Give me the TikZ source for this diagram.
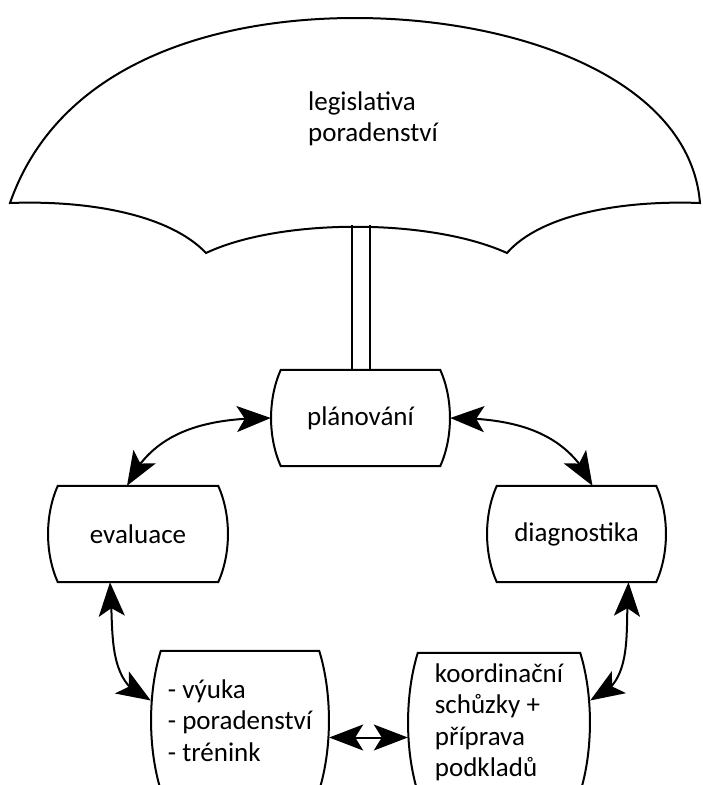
\documentclass[tikz,border=0pt]{standalone}
\usepackage{fontspec}
\setmainfont{Carlito}
\usetikzlibrary{arrows.meta,bending,calc}

\tikzset{
  box/.style={inner sep=0pt, align=left, font=\fontsize{27}{31.5}\selectfont},
  link/.style={line width=2pt, >={Stealth[length=34pt,width=26pt,inset=8pt]}, <->},
}
% box with straight top/bottom and bulging sides
\newcommand{\barrel}[1]{%
  \draw[line width=2pt] ([xshift=10pt]#1.north west) -- ([xshift=-10pt]#1.north east)
    .. controls ($(#1.north east)!.3!(#1.south east)+(3pt,0)$) and ($(#1.north east)!.7!(#1.south east)+(3pt,0)$) .. ([xshift=-10pt]#1.south east)
    -- ([xshift=10pt]#1.south west)
    .. controls ($(#1.south west)!.3!(#1.north west)-(3pt,0)$) and ($(#1.south west)!.7!(#1.north west)-(3pt,0)$) .. cycle;}

\begin{document}
\begin{tikzpicture}[x=1pt,y=1pt]
\useasboundingbox (0,0) rectangle (703,-785);
\clip (0,0) rectangle (703,-785);

% umbrella
\draw[line width=2pt] (10,-203) .. controls (60,-60) and (220,-18) .. (355,-18)
  .. controls (520,-18) and (690,-80) .. (700,-203)
  .. controls (620,-200) and (540,-215) .. (507,-253)
  .. controls (430,-218) and (280,-218) .. (206,-253)
  .. controls (170,-215) and (90,-200) .. cycle;
\node[box] (roof) at (373,-119) {legislativa\\poradenství};

\node[box, minimum width=179pt, minimum height=96pt] (plan) at (360.5,-418) {plánování};
\node[box, minimum width=180pt, minimum height=96pt] (eval) at (138,-534) {evaluace};
\node[box, minimum width=179pt, minimum height=96pt] (diag) at (576.5,-534) {diagnostika};
\node[box, minimum width=178pt, minimum height=139pt] (vyuka) at (240,-720.5) {- výuka\\- poradenství\\- trénink};
\node[box, minimum width=182pt, minimum height=139pt] (koord) at (499,-722.5) {koordinační\\schůzky +\\příprava\\podkladů};

\barrel{plan}
\barrel{eval}
\barrel{diag}
\barrel{vyuka}
\barrel{koord}

% stem
\draw[line width=2pt] ([xshift=-9pt]plan.north) -- ++(0,145);
\draw[line width=2pt] ([xshift=9pt]plan.north) -- ++(0,145);

\draw[link] (plan.west) to[out=180,in=65] ([xshift=-11pt]eval.north);
\draw[link] (plan.east) to[out=0,in=115] ([xshift=16pt]diag.north);
\draw[link] ([xshift=-28pt]eval.south) to[out=-85,in=160] ([yshift=20pt]vyuka.west);
\draw[link] ([xshift=52pt]diag.south) to[out=-95,in=20] ([yshift=22pt]koord.east);
\draw[link] ([yshift=-17pt]vyuka.east) -- ([yshift=-15pt]koord.west);
\end{tikzpicture}
\end{document}
